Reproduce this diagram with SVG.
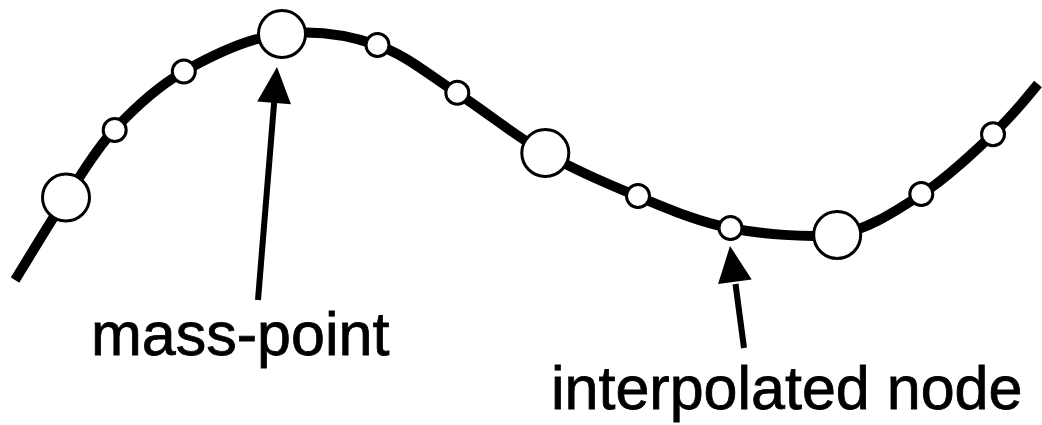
<svg xmlns="http://www.w3.org/2000/svg" width="1042" height="425" viewBox="0 0 1042 425">
<style>
.curve{fill:none;stroke:#000;stroke-width:10;stroke-linecap:butt;stroke-linejoin:round}
.big{fill:#fff;stroke:#000;stroke-width:3}
.small{fill:#fff;stroke:#000;stroke-width:3}
.shaft{stroke:#000;stroke-width:6;fill:none}
.head{fill:#000;stroke:none}
.lbl{font-family:"Liberation Sans",Arial,sans-serif;font-size:61px;fill:#000;stroke:#000;stroke-width:0.8}
</style>
<rect width="1042" height="425" fill="#fff"/>
<g id="connectors">
<path id="curve" class="curve" d="M15,280 C23.5,266.5 49.5,222.8 66,198 C82.5,173.2 94.5,151 114,130 C133.5,109 155,88.2 183,72 C211,55.8 249.7,37.5 282,34 C314.3,30 347.8,35 377,45 C406.2,55 429,75 457,93 C485,111 515,135.8 545,153 C575,170.2 606.2,183.5 637,196 C667.8,208.5 696.7,221.5 730,228 C763.3,234.5 805,237.5 837,235 C869,229.3 896,210.8 922,194 C948,177.2 973.7,152.2 993,134 C1012.3,115.8 1030.5,93.2 1038,84"/>
<line class="shaft" x1="258" y1="300" x2="274.5" y2="98"/>
<polygon class="head" points="277,67 291,104.3 257.2,101.5"/>
<line class="shaft" x1="744" y1="348" x2="735.5" y2="284"/>
<polygon class="head" points="730,246 751.7,279.4 718.1,284"/>
</g>
<g id="n1"><circle class="big" cx="66" cy="197.5" r="23.5"/></g>
<g id="n2"><circle class="small" cx="114.7" cy="130" r="11.5"/></g>
<g id="n3"><circle class="small" cx="183.8" cy="71.5" r="11.5"/></g>
<g id="n4"><circle class="big" cx="282" cy="34" r="23.5"/></g>
<g id="n5"><circle class="small" cx="377.5" cy="45" r="11.5"/></g>
<g id="n6"><circle class="small" cx="457.3" cy="92.7" r="11.5"/></g>
<g id="n7"><circle class="big" cx="545.3" cy="153" r="23.5"/></g>
<g id="n8"><circle class="small" cx="638" cy="196" r="11.5"/></g>
<g id="n9"><circle class="small" cx="730.5" cy="228" r="11.5"/></g>
<g id="n10"><circle class="big" cx="837.2" cy="235" r="23.5"/></g>
<g id="n11"><circle class="small" cx="921.3" cy="194" r="11.5"/></g>
<g id="n12"><circle class="small" cx="993" cy="134.3" r="11.5"/></g>
<g id="label-mass"><text class="lbl" x="91" y="355">mass-point</text></g>
<g id="label-interp"><text class="lbl" x="551" y="409">interpolated node</text></g>
</svg>
